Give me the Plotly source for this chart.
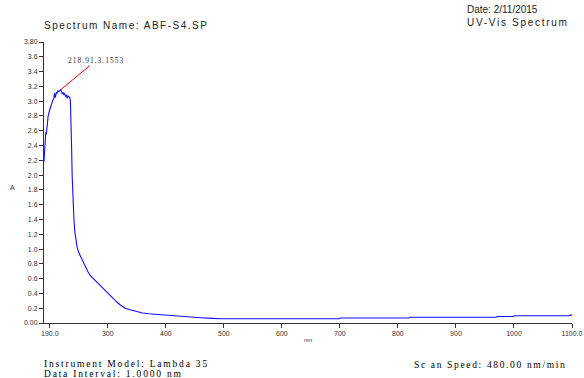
import plotly.graph_objects as go

wavelength = [190, 191.5, 193, 194, 195, 197, 199, 201, 203, 205, 207, 208, 209, 210, 211, 212,
              214, 216, 218.91, 220, 221.5, 223, 224, 225.5, 227, 228.5, 230, 231.5, 233, 234.5,
              235.5, 236.5, 237.5, 238.5, 239.5, 240.5, 241.5, 243, 245, 247, 250, 254, 258, 262,
              266, 270, 275, 280, 286, 292, 298, 304, 310, 316, 322, 330, 340, 350, 360, 370, 385,
              400, 420, 440, 460, 480, 495, 699, 701, 819, 821, 969, 971, 999, 1001, 1095, 1100]
absorbance = [2.18, 2.40, 2.58, 2.55, 2.66, 2.79, 2.86, 2.90, 2.96, 3.01, 3.04, 3.11, 3.05, 3.06, 3.12, 3.10,
              3.14, 3.13, 3.1553, 3.13, 3.10, 3.12, 3.09, 3.10, 3.07, 3.08, 3.04, 3.07, 3.06, 3.05,
              3.00, 2.80, 2.40, 2.00, 1.75, 1.58, 1.42, 1.24, 1.12, 1.03, 0.95, 0.88, 0.81, 0.75,
              0.69, 0.64, 0.60, 0.56, 0.52, 0.47, 0.42, 0.37, 0.32, 0.28, 0.24, 0.20, 0.175, 0.15, 0.135, 0.125, 0.115,
              0.108, 0.095, 0.085, 0.072, 0.062, 0.057, 0.057, 0.068, 0.068, 0.078, 0.078, 0.088, 0.088, 0.098, 0.100, 0.11]

peak_x = 218.91
peak_y = 3.1553

x_tickvals = [200, 300, 400, 500, 600, 700, 800, 900, 1000, 1100]
x_ticktext = ["190.0", "300", "400", "500", "600", "700", "800", "900", "1000", "1100.0"]
y_tickvals = [0, 0.2, 0.4, 0.6, 0.8, 1.0, 1.2, 1.4, 1.6, 1.8, 2.0, 2.2, 2.4, 2.6, 2.8, 3.0, 3.2, 3.4, 3.6, 3.8]
y_ticktext = ["0.00", "0.2", "0.4", "0.6", "0.8", "1.0", "1.2", "1.4", "1.6", "1.8", "2.0", "2.2",
              "2.4", "2.6", "2.8", "3.0", "3.2", "3.4", "3.6", "3.80"]

fig = go.Figure()
fig.add_trace(go.Scatter(x=wavelength, y=absorbance, mode="lines",
                         line=dict(color="#0f0fff", width=1.1), showlegend=False))

sans = "Liberation Sans, Arial, sans-serif"
serif = "Liberation Serif, Times New Roman, serif"
tickfont = dict(family=sans, size=7, color="#333")

fig.update_layout(
    width=584, height=378,
    margin=dict(l=44, r=12, t=42, b=55),
    paper_bgcolor="white", plot_bgcolor="white",
    xaxis=dict(range=[190, 1100], tickvals=x_tickvals, ticktext=x_ticktext, automargin=False,
               showgrid=False, zeroline=False, showline=True, linecolor="#333", linewidth=1,
               ticks="outside", ticklen=4, tickcolor="#333", tickfont=tickfont),
    yaxis=dict(range=[0, 3.8], tickvals=y_tickvals, ticktext=y_ticktext, automargin=False,
               showgrid=False, zeroline=False, showline=True, linecolor="#333", linewidth=1,
               ticks="outside", ticklen=4, tickcolor="#333", tickfont=tickfont),
)

def ls(t, sp):
    return f'<span style="letter-spacing:{sp}px">{t}</span>'

annots = [
    dict(text=ls("Spectrum Name: ABF-S4.SP", 1.5), x=43, y=26, font=dict(family=sans, size=10, color="#222")),
    dict(text="Date: 2/11/2015", x=466, y=10, font=dict(family=sans, size=10, color="#222")),
    dict(text=ls("UV-Vis Spectrum", 1.7), x=466, y=22, font=dict(family=sans, size=10, color="#222")),
    dict(text="A", x=9, y=187, font=dict(family=sans, size=7, color="#333")),
    dict(text="nm", x=303, y=340, font=dict(family=sans, size=6, color="#333")),
    dict(text=ls("Instrument Model: Lambda 35", 1.8), x=43, y=363.5, font=dict(family=serif, size=9.5, color="#000")),
    dict(text=ls("Data Interval: 1.0000 nm", 1.8), x=43, y=374, font=dict(family=serif, size=9.5, color="#000")),
    dict(text=ls("Sc an Speed: 480.00 nm/min", 1.65), x=413, y=364.5, font=dict(family=serif, size=9.5, color="#000")),
]
for a in annots:
    fig.add_annotation(text=a["text"], xref="paper", yref="paper",
                       x=(a["x"] - 44) / (584 - 44 - 12), y=(378 - 55 - a["y"]) / (378 - 42 - 55),
                       xanchor="left", yanchor="middle", showarrow=False, font=a["font"],
                       borderpad=0)

fig.add_annotation(x=peak_x, y=peak_y, xref="x", yref="y",
                   text=ls(f"{peak_x},{peak_y}", 1.0), showarrow=True, arrowhead=0,
                   arrowcolor="red", arrowwidth=1, ax=35, ay=-29, standoff=0, borderpad=0,
                   font=dict(family=serif, size=7.5, color="#333"))

fig.write_html("out.html")
